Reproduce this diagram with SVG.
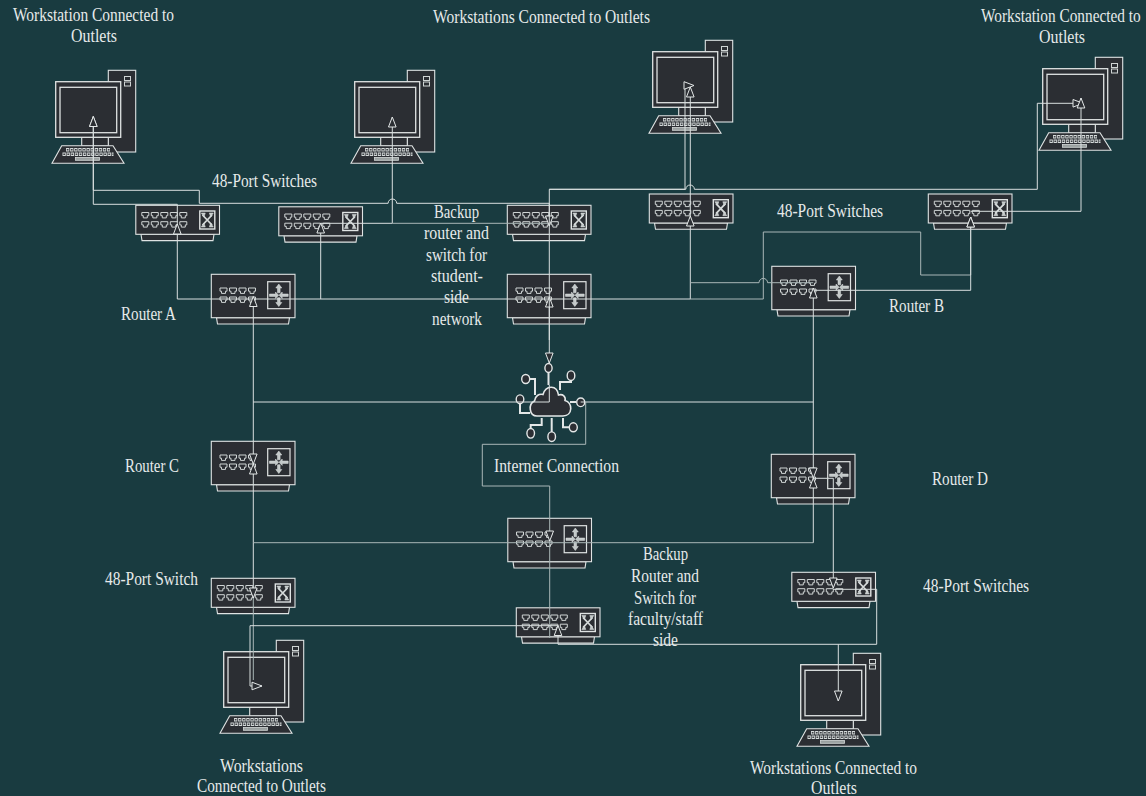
<svg xmlns="http://www.w3.org/2000/svg" width="1146" height="796" viewBox="0 0 1146 796">
<style>
.bg{fill:#193b40}
.b{fill:#2b2e33;stroke:#dfe3e3;stroke-width:1.1}
.p{fill:none;stroke:#cfd4d4;stroke-width:1}
.f{fill:#c3c9c9;stroke:#dfe3e3;stroke-width:.5}
.c{fill:none;stroke:#d9dfdf;stroke-width:1}
.d{fill:none;stroke:#a9b7b7;stroke-width:1}
.a{marker-end:url(#arr)}
text{font-family:"Liberation Serif","Times New Roman",serif;font-size:18px;fill:#e6eaea}
</style>
<defs>
<marker id="arr" markerUnits="userSpaceOnUse" markerWidth="13" markerHeight="11" refX="10.500" refY="5" orient="auto" overflow="visible">
<path d="M.5 1.200L10.500 5L.5 8.800Z" fill="#2b2e33" stroke="#e3e7e7" stroke-width="1"/>
</marker>
<path id="port" class="p" d="M0 0h7v3.200h-1.500v2.200h-4v-2.200h-1.500z"/>
<g id="row4"><use href="#port" x="0"/><use href="#port" x="9.500"/><use href="#port" x="19"/><use href="#port" x="28.500"/></g>
<g id="row5"><use href="#row4"/><use href="#port" x="38"/></g>
<g id="sw">
<path class="b" d="M5.500 29.300H78.500L77.500 35.600H6.500Z"/>
<rect class="b" x=".3" y=".3" width="83.700" height="29"/>
<use href="#row5" x="6.300" y="7.500"/><use href="#row5" x="6.300" y="16.700"/>
<rect class="b" x="64.300" y="6" width="15" height="18" style="stroke-width:1.400"/>
<path d="M67 10l9.500 10M76.500 10l-9.500 10" stroke="#d5dada" stroke-width="1.800" fill="none"/>
<path class="f" d="M65.800 8h4l-1.400 4zM77.800 8h-4l1.400 4zM65.800 22h4l-1.400-4zM77.800 22h-4l1.400-4z"/>
</g>
<g id="rt">
<path class="b" d="M5.500 43.700H78.500L77.500 50H6.500Z"/>
<rect class="b" x=".3" y=".3" width="83.700" height="43.400"/>
<use href="#row4" x="9" y="14"/><use href="#row4" x="9" y="23"/>
<rect class="b" x="56.700" y="7.700" width="22.300" height="27" style="stroke-width:1.200"/>
<path class="f" d="M67.800 10l3 4h-1.700v4.800h-2.600v-4.800h-1.700zM67.800 32.500l3-4h-1.700v-4.800h-2.600v4.800h-1.700zM58.500 20h6v-2l3.200 3.200-3.200 3.200v-2h-6zM77.200 20h-6v-2l-3.200 3.200 3.200 3.200v-2h6z"/>
</g>
<g id="ws">
<rect class="b" x="108.300" y="70.300" width="27.400" height="81.700"/>
<rect class="p" x="124.500" y="76.500" width="6" height="4"/><rect class="p" x="124.500" y="82" width="6" height="4"/>
<rect class="b" x="81.700" y="137" width="26.600" height="9"/>
<rect class="b" x="55.700" y="81.700" width="65" height="55.600" style="stroke-width:1.300"/>
<rect class="b" x="60" y="87.300" width="56.700" height="45.400" style="stroke-width:1.300"/>
<path class="b" d="M61.700 145.700H113L124 163.300H52Z"/>
<path d="M66 149.800H110" stroke="#d4d9d9" stroke-width="3.400" stroke-dasharray="3.300 .8" fill="none"/>
<path d="M62.500 154.200H113.500" stroke="#d4d9d9" stroke-width="3.400" stroke-dasharray="3.300 .8" fill="none"/>
<path d="M66 149.800H110M62.500 154.200H113.500" stroke="#3c4044" stroke-width="1.400" stroke-dasharray="1.700 2.400" stroke-dashoffset="-.8" fill="none"/>
<rect x="75.500" y="157.500" width="24" height="2.800" fill="#9aa0a0" stroke="#d4d9d9" stroke-width=".8"/>
</g>
</defs>
<rect class="bg" width="1146" height="796"/>

<g id="workstation-1"><use href="#ws"/></g>
<g id="workstation-2"><use href="#ws" x="299"/></g>
<g id="workstation-3"><use href="#ws" x="597" y="-30"/></g>
<g id="workstation-4"><use href="#ws" x="987" y="-13"/></g>
<g id="workstation-5"><use href="#ws" x="168" y="570"/></g>
<g id="workstation-6"><use href="#ws" x="745" y="583"/></g>

<g id="switch-1"><use href="#sw" x="135.500" y="205"/></g>
<g id="switch-2"><use href="#sw" x="278.500" y="206.500"/></g>
<g id="switch-3"><use href="#sw" x="507" y="205"/></g>
<g id="switch-4"><use href="#sw" x="649" y="193.700"/></g>
<g id="switch-5"><use href="#sw" x="928" y="193.700"/></g>
<g id="switch-6"><use href="#sw" x="791.500" y="572"/></g>
<g id="switch-7"><use href="#sw" x="516" y="607.500"/></g>
<g id="switch-8"><use href="#sw" x="211" y="578"/></g>

<g id="router-a"><use href="#rt" x="211" y="274"/></g>
<g id="router-backup-1"><use href="#rt" x="507" y="274"/></g>
<g id="router-b"><use href="#rt" x="771.500" y="266"/></g>
<g id="router-c"><use href="#rt" x="211" y="441"/></g>
<g id="router-d"><use href="#rt" x="771" y="454"/></g>
<g id="router-backup-2"><use href="#rt" x="507.500" y="518"/></g>

<g id="internet-cloud" fill="#2b2e33" stroke="#e3e7e7" stroke-width="1.400">
<path d="M537 416C529 416 528 404 534.500 401C535 396 539 393.500 543 394.500C546 384.500 557 385 558.500 395C563 393.500 566 397 565 400.500C573 402 573 416 563 416Z" stroke-width="1.600"/>
<path fill="none" stroke-width="2" d="M548.500 372V385M529.500 379H535V395M571 380V382H560V390M520 404V413H530M576 402H570M530.700 429V425H541.700V418M551.700 432V418M569 427.300H563V418"/>
<ellipse cx="548.500" cy="368" rx="3.600" ry="4.500"/><ellipse cx="525.700" cy="379" rx="4" ry="4.500"/><ellipse cx="571" cy="375.700" rx="3.800" ry="4.800"/><ellipse cx="520" cy="399.300" rx="3.800" ry="4.400"/><ellipse cx="580.700" cy="402.300" rx="4" ry="4.300"/><ellipse cx="530.700" cy="433.300" rx="3.800" ry="4.800"/><ellipse cx="551.700" cy="436.700" rx="3.800" ry="4.800"/><ellipse cx="573.300" cy="427.300" rx="4" ry="4.500"/>
</g>

<g id="connectors">
<path class="c a" d="M177.300 299V224"/>
<path class="c a" d="M177.300 222V204.300H93.300V116.500"/>
<path class="c a" d="M549.300 203.300H396.700a4.300 4.300 0 0 0-8.600 0H199.300V190.300H93.300V116.500"/>
<path class="c" d="M177.300 299H690.500"/>
<path class="c a" d="M320.700 299V223"/>
<path class="c a" d="M320.700 223.300H392.300V117"/>
<path class="d" d="M392.300 223.300H549.300"/>
<path class="c a" d="M549.300 203.300V226"/>
<path class="c a" d="M253.300 402V296.500"/>
<path class="c a" d="M549.300 340V297"/>
<path class="c a" d="M549.300 189.300V363"/>
<path class="c a" d="M549.300 189.300H685V85.500H694"/>
<path class="c a" d="M549.300 189.300H685.800a4.300 4.300 0 0 1 8.600 0H1037.300V103.300H1083"/>
<path class="c a" d="M690.300 299V216"/>
<path class="c a" d="M690.300 216V87"/>
<path class="d" d="M690.300 282.700H759a4.300 4.300 0 0 1 8.600 0H813.300"/>
<path class="d a" d="M690.300 299H763.300V232H920.700V275H970.700V217"/>
<path class="c a" d="M813.300 290.300H970.700V217"/>
<path class="c a" d="M970.700 211.300H1081V98"/>
<path class="c a" d="M813.300 402V288"/>
<path class="c" d="M253.300 402H549.300V385"/>
<path class="c" d="M580.700 402H813.300"/>
<path class="c a" d="M813.300 402V478"/>
<path class="c a" d="M253.300 402V464"/>
<path class="c a" d="M253.300 543V464"/>
<path class="d" d="M253.300 542.700H813.300"/>
<path class="c a" d="M813.300 542.700V478"/>
<path class="d a" d="M585.700 402V444.300H482.300V486H549.700V541"/>
<path class="d" d="M549.700 541V638"/>
<path class="c a" d="M813.300 478.300H833.300V588"/>
<path class="c a" d="M253.300 543V598"/>
<path class="d" d="M253.300 598V680"/>
<path class="c a" d="M558 625.700H250V686H262"/>
<path class="c a" d="M876.700 589.300V644.300H558V625.500"/>
<path class="c" d="M833.300 589.300H876.700"/>
<path class="c a" d="M838.300 644.300V701"/>
</g>

<g id="labels" transform="translate(0 .7)">
<text x="13" y="20" textLength="161" lengthAdjust="spacingAndGlyphs">Workstation Connected to</text>
<text x="71" y="41" textLength="46" lengthAdjust="spacingAndGlyphs">Outlets</text>
<text x="433" y="22" textLength="217" lengthAdjust="spacingAndGlyphs">Workstations Connected to Outlets</text>
<text transform="translate(981 21) scale(.852 1)">Workstation Connected to</text>
<text x="1039" y="42" textLength="46" lengthAdjust="spacingAndGlyphs">Outlets</text>
<text x="212" y="186" textLength="105" lengthAdjust="spacingAndGlyphs">48-Port Switches</text>
<text x="777" y="216" textLength="106" lengthAdjust="spacingAndGlyphs">48-Port Switches</text>
<text x="434" y="217" textLength="45" lengthAdjust="spacingAndGlyphs">Backup</text>
<text x="424" y="238" textLength="65" lengthAdjust="spacingAndGlyphs">router and</text>
<text x="426" y="260" textLength="61" lengthAdjust="spacingAndGlyphs">switch for</text>
<text x="431" y="281" textLength="52" lengthAdjust="spacingAndGlyphs">student-</text>
<text x="444" y="302" textLength="25" lengthAdjust="spacingAndGlyphs">side</text>
<text x="432" y="324" textLength="50" lengthAdjust="spacingAndGlyphs">network</text>
<text x="121" y="319" textLength="55" lengthAdjust="spacingAndGlyphs">Router A</text>
<text x="889" y="311" textLength="55" lengthAdjust="spacingAndGlyphs">Router B</text>
<text x="125" y="471" textLength="54" lengthAdjust="spacingAndGlyphs">Router C</text>
<text x="932" y="484" textLength="56" lengthAdjust="spacingAndGlyphs">Router D</text>
<text x="494" y="471" textLength="125" lengthAdjust="spacingAndGlyphs">Internet Connection</text>
<text x="643" y="559" textLength="45" lengthAdjust="spacingAndGlyphs">Backup</text>
<text x="631" y="581" textLength="68" lengthAdjust="spacingAndGlyphs">Router and</text>
<text x="634" y="603" textLength="62" lengthAdjust="spacingAndGlyphs">Switch for</text>
<text x="628" y="624" textLength="75" lengthAdjust="spacingAndGlyphs">faculty/staff</text>
<text x="653" y="645" textLength="25" lengthAdjust="spacingAndGlyphs">side</text>
<text x="105" y="584" textLength="93" lengthAdjust="spacingAndGlyphs">48-Port Switch</text>
<text x="923" y="591" textLength="106" lengthAdjust="spacingAndGlyphs">48-Port Switches</text>
<text x="220" y="771" textLength="83" lengthAdjust="spacingAndGlyphs">Workstations</text>
<text x="197" y="791.300" textLength="129" lengthAdjust="spacingAndGlyphs">Connected to Outlets</text>
<text x="750" y="773" textLength="167" lengthAdjust="spacingAndGlyphs">Workstations Connected to</text>
<text x="811" y="793.300" textLength="46" lengthAdjust="spacingAndGlyphs">Outlets</text>
</g>
</svg>
